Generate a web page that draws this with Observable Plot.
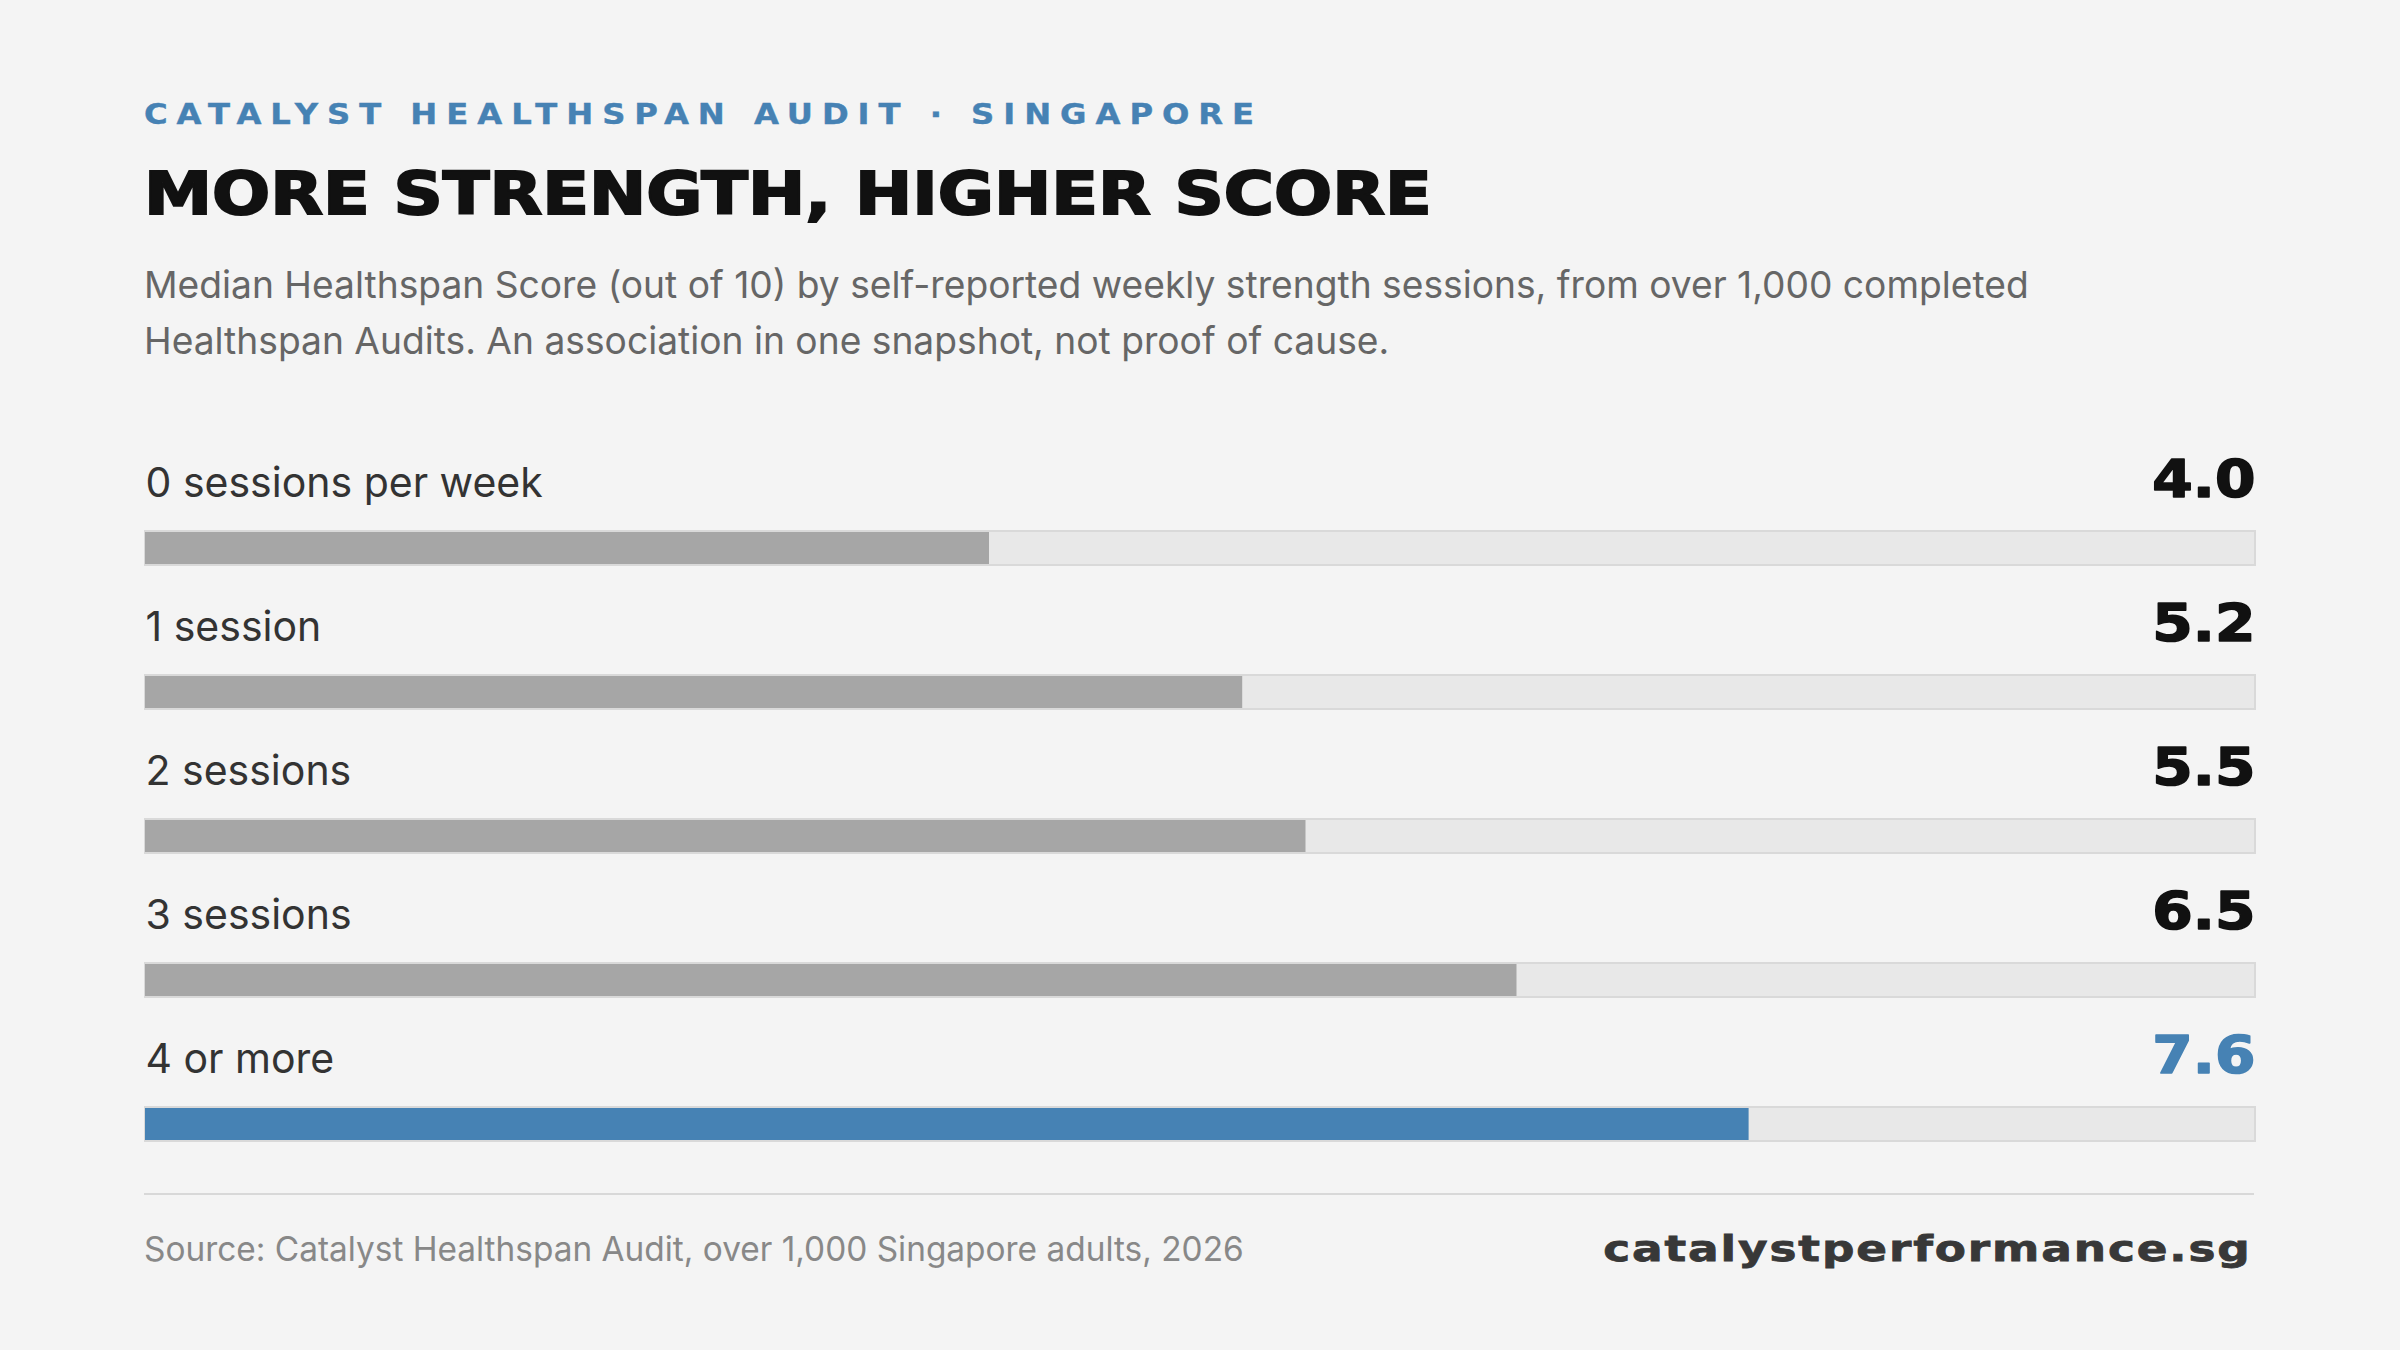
<!DOCTYPE html>
<html>
<head>
<meta charset="utf-8">
<script src="https://cdn.jsdelivr.net/npm/d3@7"></script>
<script src="https://cdn.jsdelivr.net/npm/@observablehq/plot@0.6"></script>
<style>
  html, body { margin: 0; padding: 0; background: #f4f4f4; }
  body { width: 2400px; height: 1350px; position: relative; overflow: hidden; font-family: Inter, "Liberation Sans", sans-serif; }
  .abs { position: absolute; left: 144px; white-space: nowrap; }
  #kicker { top: 99px; font-family: "DejaVu Sans", sans-serif; font-weight: bold; font-size: 28px; line-height: 32px; letter-spacing: 7.8px; color: #4682b4; transform: scaleX(1.15); transform-origin: 0 50%; -webkit-text-stroke: 0.4px #4682b4; }
  #title { top: 162px; font-family: "DejaVu Sans", sans-serif; font-weight: 900; font-size: 58px; line-height: 64px; letter-spacing: 0px; color: #111; transform: scaleX(1.18); transform-origin: 0 50%; -webkit-text-stroke: 2px #111; }
  #subtitle { top: 257px; font-size: 37.2px; line-height: 56px; color: #666; white-space: normal; width: 2200px; }
  #chart { position: absolute; left: 143px; top: 457px; }
  #rule { position: absolute; left: 144px; top: 1193px; width: 2110px; height: 2px; background: #d8d8d8; }
  #source { top: 1231px; font-size: 33.4px; line-height: 36px; color: #888; }
  #site { position: absolute; right: 148px; top: 1229px; font-family: "DejaVu Sans", sans-serif; font-weight: bold; font-size: 36px; line-height: 40px; letter-spacing: 1.5px; color: #383838; white-space: nowrap; transform: scaleX(1.26); transform-origin: 100% 50%; -webkit-text-stroke: 0.8px #383838; }
</style>
</head>
<body>
<div id="kicker" class="abs">CATALYST HEALTHSPAN AUDIT · SINGAPORE</div>
<div id="title" class="abs">MORE STRENGTH, HIGHER SCORE</div>
<div id="subtitle" class="abs">Median Healthspan Score (out of 10) by self-reported weekly strength sessions, from over 1,000 completed<br>Healthspan Audits. An association in one snapshot, not proof of cause.</div>
<div id="chart"></div>
<div id="rule"></div>
<div id="source" class="abs">Source: Catalyst Healthspan Audit, over 1,000 Singapore adults, 2026</div>
<div id="site">catalystperformance.sg</div>
<script>
const categories = ["0 sessions per week", "1 session", "2 sessions", "3 sessions", "4 or more"];
const scores = [4.0, 5.2, 5.5, 6.5, 7.6];
const highlighted = [false, false, false, false, true];
const maxScore = 10;

const rows = categories.map((c, i) => ({category: c, score: scores[i], hi: highlighted[i]}));
const valueColor = d => d.hi ? "#4682b4" : "#111";

const chart = Plot.plot({
  width: 2114,
  height: 720,
  marginLeft: 2,
  marginRight: 2,
  marginTop: 0,
  marginBottom: 0,
  style: {background: "transparent", overflow: "visible"},
  x: {domain: [0, maxScore], axis: null},
  y: {domain: categories, axis: null, padding: 0},
  marks: [
    Plot.barX(rows, {y: "category", x1: 0, x2: maxScore, fill: "#e8e8e8", stroke: "#d9d9d9", strokeWidth: 2, insetTop: 74, insetBottom: 36}),
    Plot.barX(rows, {y: "category", x1: 0, x2: "score", fill: d => d.hi ? "#4682b4" : "#a6a6a6", insetTop: 75, insetBottom: 37}),
    Plot.text(rows, {y: "category", x: 0, text: "category", textAnchor: "start", lineAnchor: "bottom", dy: -33, fontSize: 41, fill: "#333", fontFamily: "Inter, sans-serif"}),
    Plot.text(rows, {y: "category", x: maxScore, text: d => d.score.toFixed(1), textAnchor: "end", lineAnchor: "bottom", dy: -33, fontSize: 52, fontWeight: 900, fill: valueColor, stroke: valueColor, strokeWidth: 1.6, fontFamily: "DejaVu Sans, sans-serif"})
  ]
});
document.getElementById("chart").appendChild(chart);
const textGroups = chart.querySelectorAll('g[aria-label="text"]');
textGroups[textGroups.length - 1].querySelectorAll("text").forEach(t => {
  const tr = t.getAttribute("transform") || "";
  t.setAttribute("transform", tr + " scale(1.12,1)");
});
</script>
</body>
</html>
